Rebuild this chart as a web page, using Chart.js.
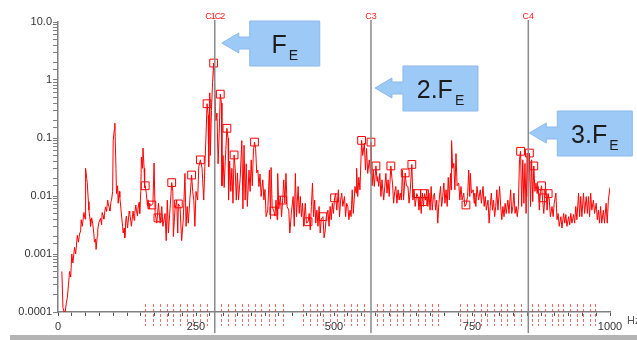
<!DOCTYPE html>
<html>
<head>
<meta charset="utf-8">
<title>Spectrum</title>
<script src="https://cdn.jsdelivr.net/npm/chart.js@4.4.0/dist/chart.umd.min.js"></script>
<style>
  html, body { margin: 0; padding: 0; background: #fff; }
  #wrap { position: relative; width: 637px; height: 340px; }
</style>
</head>
<body>
<div id="wrap"><canvas id="spectrumChart"></canvas></div>
<script>
// Spectrum readings: frequency (Hz) and amplitude
const freqHz = [
  7, 9, 11, 13, 15, 17, 19, 21, 23, 25,
  27, 30, 32, 35, 37, 39, 41, 42, 44, 47,
  49, 50, 52, 53, 55, 56, 58, 59, 61, 63,
  65, 66, 68, 69, 71, 72, 74, 77, 79, 80,
  82, 83, 86, 88, 90, 91, 93, 94, 96, 97,
  99, 100, 102, 103, 105, 106, 108, 109, 111, 112,
  114, 115, 117, 118, 120, 121, 123, 124, 126, 127,
  129, 130, 132, 133, 135, 136, 138, 139, 141, 142,
  144, 145, 147, 148, 150, 151, 153, 154, 156, 157,
  158, 160, 162, 163, 165, 166, 168, 170, 172, 174,
  176, 179, 182, 185, 188, 190, 194, 196, 198, 200,
  203, 206, 208, 209, 212, 215, 217, 218, 221, 224,
  227, 230, 232, 234, 236, 239, 242, 244, 246, 248,
  250, 253, 255, 258, 261, 264, 266, 268, 270, 272,
  273, 275, 276, 278, 280, 282, 284, 286, 288, 290,
  292, 294, 296, 297, 299, 301, 303, 306, 308, 309,
  311, 313, 315, 317, 319, 321, 323, 325, 327, 330,
  333, 335, 337, 339, 341, 343, 346, 348, 350, 352,
  354, 356, 358, 360, 362, 364, 366, 368, 371, 373,
  375, 377, 380, 383, 385, 386, 388, 391, 393, 395,
  397, 398, 400, 403, 405, 407, 409, 411, 413, 415,
  418, 420, 423, 426, 428, 430, 432, 435, 437, 439,
  441, 443, 445, 448, 450, 453, 455, 457, 459, 461,
  463, 465, 467, 469, 471, 473, 475, 477, 480, 482,
  484, 486, 489, 491, 493, 495, 497, 499, 501, 503,
  505, 508, 510, 512, 514, 516, 519, 521, 523, 525,
  527, 529, 531, 533, 535, 538, 540, 541, 543, 545,
  547, 550, 552, 555, 557, 559, 561, 564, 566, 567,
  569, 571, 573, 576, 578, 579, 581, 583, 585, 587,
  590, 592, 594, 596, 598, 600, 603, 605, 606, 608,
  610, 612, 614, 616, 618, 620, 622, 624, 626, 629,
  631, 634, 636, 638, 641, 643, 645, 647, 650, 652,
  654, 656, 658, 660, 662, 664, 666, 668, 670, 672,
  674, 676, 678, 680, 682, 684, 686, 688, 690, 693,
  695, 697, 699, 701, 703, 705, 707, 709, 711, 712,
  713, 715, 717, 719, 721, 723, 726, 728, 730, 732,
  735, 737, 739, 742, 744, 746, 747, 749, 752, 754,
  755, 757, 759, 762, 765, 767, 770, 772, 774, 776,
  779, 781, 783, 785, 787, 789, 791, 793, 795, 797,
  800, 802, 804, 806, 808, 810, 812, 815, 817, 820,
  822, 824, 826, 828, 830, 832, 834, 836, 838, 840,
  842, 844, 846, 848, 850, 852, 854, 856, 858, 860,
  862, 864, 866, 868, 870, 872, 874, 876, 878, 880,
  882, 884, 886, 888, 890, 892, 895, 897, 899, 902,
  904, 906, 908, 911, 913, 916, 918, 920, 922, 925,
  927, 929, 931, 934, 936, 938, 940, 943, 945, 947,
  949, 952, 954, 957, 959, 961, 963, 965, 967, 970,
  972, 975, 977, 979, 981, 983, 985, 988, 990, 993,
  995, 997, 1000
];
const amplitude = [
  0.0005, 0.00012, 0.0001, 0.0001, 0.00014, 0.00018, 0.0003, 0.0005, 0.0004, 0.001,
  0.0007, 0.0013, 0.001, 0.0021, 0.0016, 0.0022, 0.0025, 0.0039, 0.003, 0.0052,
  0.004, 0.03, 0.02, 0.017, 0.008, 0.0057, 0.004, 0.003, 0.0042, 0.0033,
  0.0022, 0.0016, 0.0018, 0.0012, 0.002, 0.0026, 0.0035, 0.0041, 0.0032, 0.0052,
  0.0045, 0.004, 0.0065, 0.0054, 0.0085, 0.0074, 0.0062, 0.0055, 0.008, 0.0085,
  0.012, 0.09, 0.14, 0.18, 0.03, 0.011, 0.015, 0.0075, 0.012, 0.0095,
  0.006, 0.0047, 0.003, 0.0023, 0.0028, 0.0019, 0.004, 0.0045, 0.0028, 0.0035,
  0.0055, 0.005, 0.0036, 0.003, 0.0045, 0.0055, 0.0038, 0.005, 0.007, 0.0057,
  0.0045, 0.0062, 0.0078, 0.005, 0.012, 0.047, 0.03, 0.067, 0.03, 0.014,
  0.015, 0.011, 0.0068, 0.0086, 0.006, 0.0075, 0.0068, 0.007, 0.0075, 0.037,
  0.005, 0.0034, 0.0075, 0.0034, 0.0066, 0.003, 0.005, 0.0017, 0.0085, 0.0023,
  0.006, 0.017, 0.012, 0.002, 0.006, 0.0085, 0.0023, 0.0073, 0.0066, 0.0017,
  0.004, 0.0245, 0.003, 0.0066, 0.0034, 0.009, 0.023, 0.012, 0.0085, 0.003,
  0.012, 0.0085, 0.032, 0.042, 0.03, 0.0085, 0.032, 0.1, 0.39, 0.25,
  0.032, 0.6, 0.05, 0.3, 0.9, 1.96, 0.7, 0.2, 0.27, 0.036,
  0.12, 0.57, 0.4, 0.015, 0.05, 0.014, 0.04, 0.147, 0.1, 0.0085,
  0.04, 0.012, 0.03, 0.0075, 0.051, 0.03, 0.0085, 0.025, 0.0085, 0.02,
  0.09, 0.006, 0.075, 0.0085, 0.036, 0.0066, 0.028, 0.012, 0.042, 0.015,
  0.06, 0.085, 0.066, 0.025, 0.028, 0.0145, 0.024, 0.0098, 0.019, 0.0085,
  0.013, 0.0044, 0.0057, 0.028, 0.004, 0.031, 0.0066, 0.0055, 0.0045, 0.0085,
  0.0039, 0.0245, 0.006, 0.0098, 0.0044, 0.0085, 0.019, 0.0075, 0.0245, 0.0066,
  0.0057, 0.0023, 0.0055, 0.0098, 0.003, 0.0245, 0.0044, 0.0146, 0.005, 0.0098,
  0.0044, 0.0075, 0.003, 0.0075, 0.0034, 0.0036, 0.005, 0.0026, 0.0066, 0.0167,
  0.0044, 0.0085, 0.0034, 0.0057, 0.003, 0.0066, 0.0023, 0.004, 0.0044, 0.0019,
  0.0025, 0.0044, 0.0057, 0.003, 0.0066, 0.0039, 0.0075, 0.005, 0.0093, 0.011,
  0.0057, 0.0128, 0.0044, 0.0085, 0.0112, 0.0066, 0.0098, 0.0044, 0.0075, 0.0066,
  0.0039, 0.0057, 0.0044, 0.0128, 0.005, 0.0146, 0.0112, 0.03, 0.0098, 0.021,
  0.0128, 0.091, 0.05, 0.081, 0.028, 0.066, 0.0245, 0.042, 0.0245, 0.085,
  0.015, 0.028, 0.0146, 0.033, 0.018, 0.0215, 0.0146, 0.0245, 0.0098, 0.019,
  0.0085, 0.0146, 0.0245, 0.0112, 0.019, 0.0098, 0.033, 0.02, 0.0167, 0.0075,
  0.012, 0.0146, 0.0075, 0.0128, 0.0085, 0.0112, 0.0085, 0.028, 0.0085, 0.025,
  0.015, 0.0146, 0.0075, 0.012, 0.035, 0.0085, 0.0128, 0.0066, 0.011, 0.0098,
  0.0057, 0.0098, 0.005, 0.0112, 0.0066, 0.011, 0.0085, 0.0128, 0.0066, 0.0112,
  0.0057, 0.0146, 0.0057, 0.0098, 0.0112, 0.0057, 0.0085, 0.0034, 0.0075, 0.0146,
  0.0066, 0.0098, 0.0167, 0.0075, 0.0128, 0.0066, 0.021, 0.0085, 0.0245, 0.0128,
  0.09, 0.03, 0.0365, 0.0128, 0.054, 0.015, 0.0167, 0.0085, 0.0146, 0.0085,
  0.0112, 0.0066, 0.007, 0.0098, 0.028, 0.0098, 0.0245, 0.0112, 0.0128, 0.0075,
  0.0112, 0.0066, 0.0146, 0.0085, 0.0128, 0.0075, 0.0146, 0.0066, 0.0098, 0.0057,
  0.0085, 0.0034, 0.0066, 0.0112, 0.0057, 0.0085, 0.0044, 0.0066, 0.0128, 0.0057,
  0.0146, 0.0066, 0.0039, 0.0066, 0.0044, 0.0075, 0.005, 0.0085, 0.005, 0.0128,
  0.005, 0.0066, 0.0112, 0.005, 0.0066, 0.0044, 0.0066, 0.042, 0.059, 0.0066,
  0.042, 0.0075, 0.0365, 0.005, 0.055, 0.0098, 0.055, 0.0066, 0.042, 0.008,
  0.033, 0.012, 0.0167, 0.011, 0.0146, 0.0057, 0.012, 0.015, 0.0085, 0.005,
  0.0098, 0.0128, 0.0057, 0.011, 0.0085, 0.0044, 0.0066, 0.0044, 0.0075, 0.0112,
  0.0039, 0.005, 0.003, 0.0044, 0.0028, 0.005, 0.0034, 0.0048, 0.003, 0.0044,
  0.0032, 0.005, 0.0034, 0.0048, 0.0034, 0.0066, 0.0039, 0.0112, 0.0044, 0.0098,
  0.0044, 0.0112, 0.005, 0.0098, 0.005, 0.0098, 0.0044, 0.0112, 0.0057, 0.0085,
  0.005, 0.0075, 0.0039, 0.0057, 0.0034, 0.0066, 0.0034, 0.0057, 0.0034, 0.0075,
  0.0034, 0.0085, 0.014
];

// Boxed peak picks
const peakHz = [158, 170, 181, 206, 218, 242, 258, 270, 282, 294, 306, 319, 356, 391, 407, 453, 480,
  501, 550, 567, 576, 603, 629, 641, 650, 661, 664, 739, 838, 854, 862, 876, 879, 888];
const peakAmp = [0.015, 0.007, 0.0042, 0.017, 0.0073, 0.023, 0.042, 0.39, 1.96, 0.57, 0.147, 0.051, 0.085, 0.0055, 0.0085, 0.0036, 0.0044,
  0.0093, 0.091, 0.085, 0.033, 0.033, 0.025, 0.035, 0.011, 0.008, 0.011, 0.007, 0.059, 0.055, 0.033, 0.015, 0.0093, 0.011];

// Harmonic cursors and their callouts
const cursorHz = [284, 567, 852];
const cursorTags = ['C1C2', 'C3', 'C4'];
const calloutText = ['F', '2.F', '3.F'];
const calloutSub = 'E';

// Small red sideband ticks along the frequency axis
const markerHz = [158, 172, 185, 197, 208, 221, 234, 245, 257, 270,
  295, 308, 321, 333, 344, 357, 368, 382, 393, 408,
  444, 457, 469, 480, 493, 505, 518, 531, 542, 554,
  578, 589, 601, 614, 625, 638, 652, 665, 678, 688,
  728, 741, 754, 766, 777, 790, 803, 813, 826, 839,
  859, 870, 882, 895, 906, 915, 928, 940, 951, 964, 973];

// Tick labels
const xTickLabels = [0, 250, 500, 750, 1000];
const yTickLabels = [0.0001, 0.001, 0.01, 0.1, 1, 10];

const AXIS_GREY = '#7f7f7f';
const LABEL_FONT = { family: '"Liberation Sans", Arial, sans-serif', size: 11 };

// Draws cursors, sideband ticks, callouts and the frame bits
const overlayPlugin = {
  id: 'overlay',
  afterDatasetsDraw(chart) {
    const { ctx, chartArea: area, scales: { x } } = chart;
    ctx.save();

    // sideband dashes crossing the x axis
    ctx.strokeStyle = 'rgba(255, 40, 40, 0.7)';
    ctx.lineWidth = 1;
    ctx.setLineDash([3, 2]);
    markerHz.forEach(hz => {
      const px = Math.round(x.getPixelForValue(hz)) + 0.5;
      ctx.beginPath();
      ctx.moveTo(px, area.bottom - 8);
      ctx.lineTo(px, area.bottom + 14);
      ctx.stroke();
    });
    ctx.setLineDash([]);

    // cursor lines with red tags
    cursorHz.forEach((hz, i) => {
      const px = x.getPixelForValue(hz);
      ctx.strokeStyle = '#8a8a8a';
      ctx.lineWidth = 1.5;
      ctx.beginPath();
      ctx.moveTo(px, area.top - 2);
      ctx.lineTo(px, area.bottom + 21);
      ctx.stroke();

      ctx.fillStyle = '#ff2020';
      ctx.textAlign = 'center';
      ctx.textBaseline = 'alphabetic';
      ctx.font = '9px "Liberation Sans", Arial, sans-serif';
      ctx.letterSpacing = cursorTags[i].length > 2 ? '-1px' : '0px';
      ctx.fillText(cursorTags[i], px, area.top - 3);
    });
    ctx.letterSpacing = '0px';
    ctx.restore();
  },
  afterDraw(chart) {
    const { ctx, chartArea: area, scales: { x } } = chart;
    ctx.save();

    // blue arrow callouts pointing at each cursor
    const tipOffset = [7, 4, 1];
    const boxWidth = [70, 75, 75];
    cursorHz.forEach((hz, i) => {
      const tip = x.getPixelForValue(hz) + tipOffset[i];
      const top = area.top - 1 + i * 45;
      const h = 45;
      const cy = top + 22;
      const left = tip + 28;
      const right = left + boxWidth[i];

      ctx.beginPath();
      ctx.moveTo(tip, cy);
      ctx.lineTo(tip + 17, cy - 10);
      ctx.lineTo(tip + 17, cy - 6);
      ctx.lineTo(left, cy - 6);
      ctx.lineTo(left, top);
      ctx.lineTo(right, top);
      ctx.lineTo(right, top + h);
      ctx.lineTo(left, top + h);
      ctx.lineTo(left, cy + 6);
      ctx.lineTo(tip + 17, cy + 6);
      ctx.lineTo(tip + 17, cy + 10);
      ctx.closePath();
      ctx.fillStyle = '#9dc9f7';
      ctx.fill();
      ctx.strokeStyle = '#8cb9ea';
      ctx.lineWidth = 1;
      ctx.stroke();

      const mainFont = '25px "Liberation Sans", Arial, sans-serif';
      const subFont = '14px "Liberation Sans", Arial, sans-serif';
      ctx.font = mainFont;
      const wMain = ctx.measureText(calloutText[i]).width;
      ctx.font = subFont;
      const wSub = ctx.measureText(calloutSub).width;
      const startX = (left + right) / 2 - (wMain + 2 + wSub) / 2;
      ctx.fillStyle = '#1c1c1c';
      ctx.textAlign = 'left';
      ctx.textBaseline = 'alphabetic';
      ctx.font = mainFont;
      ctx.fillText(calloutText[i], startX, top + 32);
      ctx.font = subFont;
      ctx.fillText(calloutSub, startX + wMain + 2, top + 39);
    });

    // unit label at the end of the x axis
    ctx.fillStyle = '#555';
    ctx.font = '11px "Liberation Sans", Arial, sans-serif';
    ctx.textAlign = 'left';
    ctx.fillText('Hz', area.right + 17, area.bottom + 12);

    // grey strip along the bottom edge
    ctx.fillStyle = '#b4b4b4';
    ctx.fillRect(10, chart.height - 5, chart.width - 10, 5);
    ctx.restore();
  }
};

const ctx = document.getElementById('spectrumChart').getContext('2d');
const spectrumChart = new Chart(ctx, {
  type: 'line',
  data: {
    datasets: [
      {
        label: 'Spectrum',
        data: freqHz.map((hz, i) => ({ x: hz, y: amplitude[i] })),
        borderColor: '#ff0000',
        borderWidth: 1,
        pointRadius: 0,
        tension: 0,
        fill: false
      },
      {
        label: 'Peaks',
        data: peakHz.map((hz, i) => ({ x: hz, y: peakAmp[i] })),
        showLine: false,
        pointStyle: 'rect',
        pointRadius: 5.5,
        pointBorderColor: '#ff0000',
        pointBackgroundColor: 'rgba(0,0,0,0)',
        pointBorderWidth: 1
      }
    ]
  },
  options: {
    responsive: true,
    maintainAspectRatio: false,
    animation: false,
    layout: { padding: { top: 22, right: 27, left: 0, bottom: 0 } },
    plugins: {
      legend: { display: false },
      tooltip: { enabled: false }
    },
    scales: {
      x: {
        type: 'linear',
        min: 0,
        max: 1000,
        border: { color: AXIS_GREY, width: 1.5 },
        grid: { drawOnChartArea: false, tickLength: 4, color: '#555' },
        ticks: {
          stepSize: 25,
          autoSkip: false,
          maxRotation: 0,
          padding: 4,
          color: '#333',
          font: LABEL_FONT,
          callback: v => xTickLabels.includes(v) ? String(v) : ''
        },
        afterFit: s => { s.height = 28; }
      },
      y: {
        type: 'logarithmic',
        min: 0.0001,
        max: 10,
        border: { color: AXIS_GREY, width: 1.5 },
        grid: { drawOnChartArea: false, tickLength: 5, color: AXIS_GREY },
        ticks: {
          autoSkip: false,
          padding: 1,
          color: '#333',
          font: LABEL_FONT,
          callback: v => {
            const hit = yTickLabels.find(t => Math.abs(Math.log10(v) - Math.log10(t)) < 1e-6);
            if (hit === undefined) return '';
            return hit === 10 ? '10.0' : String(hit);
          }
        },
        afterFit: s => { s.width = 58; }
      }
    }
  },
  plugins: [overlayPlugin]
});
</script>
</body>
</html>
